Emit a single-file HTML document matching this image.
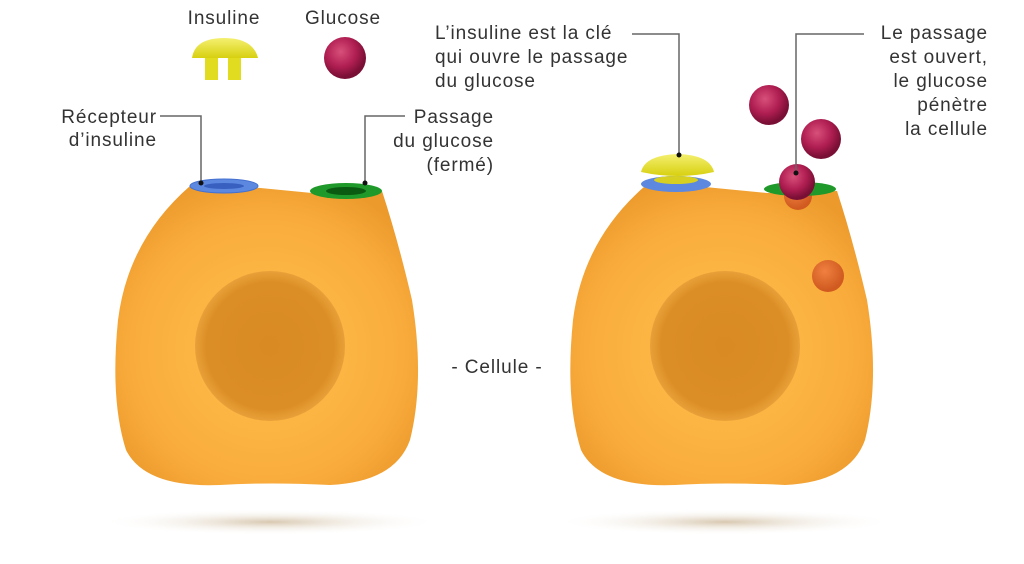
<!DOCTYPE html>
<html><head><meta charset="utf-8"><style>
body{margin:0;background:#fff;width:1024px;height:559px;overflow:hidden}
text{font-family:"Liberation Sans",sans-serif;font-size:19px;fill:#333;letter-spacing:0.9px}
</style></head><body>
<svg width="1024" height="559" viewBox="0 0 1024 559" xmlns="http://www.w3.org/2000/svg">
<defs>
<radialGradient id="cell" cx="0.5" cy="0.55" r="0.6">
<stop offset="0" stop-color="#ffc04a"/><stop offset="0.75" stop-color="#f9ac3c"/><stop offset="1" stop-color="#ec9a2c"/></radialGradient>
<radialGradient id="nuc" cx="0.5" cy="0.5" r="0.5">
<stop offset="0" stop-color="#d98a22"/><stop offset="0.85" stop-color="#dc8e26"/><stop offset="1" stop-color="#e9a038"/></radialGradient>
<radialGradient id="ball" cx="0.4" cy="0.35" r="0.6">
<stop offset="0" stop-color="#d8507a"/><stop offset="0.6" stop-color="#b01e52"/><stop offset="1" stop-color="#7a0f35"/></radialGradient>
<radialGradient id="oball" cx="0.4" cy="0.35" r="0.6">
<stop offset="0" stop-color="#f08040"/><stop offset="1" stop-color="#d05a20"/></radialGradient>
<radialGradient id="sh" cx="0.5" cy="0.5" r="0.5">
<stop offset="0" stop-color="#d8c8b0"/><stop offset="1" stop-color="#fff" stop-opacity="0"/></radialGradient>
<linearGradient id="dome" x1="0" y1="0" x2="0" y2="1"><stop offset="0" stop-color="#f4f070"/><stop offset="1" stop-color="#d8d010"/></linearGradient>
<g id="cellg">
<path d="M190,186 L250,187 L312,193 L382,191 Q398,240 412,300 Q425,380 410,440 Q395,482 330,485 Q270,482 220,485 Q145,488 126,450 Q110,400 118,320 Q128,240 190,186 Z" fill="url(#cell)"/>
<circle cx="270" cy="346" r="75" fill="url(#nuc)"/>
</g>
</defs>
<ellipse cx="270" cy="522" rx="170" ry="13" fill="url(#sh)"/>
<ellipse cx="725" cy="522" rx="170" ry="13" fill="url(#sh)"/>
<use href="#cellg"/>
<use href="#cellg" transform="translate(455,0)"/>
<ellipse cx="224" cy="186" rx="34" ry="7" fill="#5c88e0" stroke="#4470d0"/>
<ellipse cx="224" cy="186" rx="20" ry="3" fill="#3860c0"/>
<ellipse cx="346" cy="191" rx="36" ry="8" fill="#1f9a2a"/>
<ellipse cx="346" cy="191" rx="20" ry="4" fill="#0a5a12"/>
<text x="224" y="24" text-anchor="middle">Insuline</text>
<text x="343" y="24" text-anchor="middle">Glucose</text>
<path d="M192,58 Q195,38 224,38 Q253,38 258,58 Z" fill="url(#dome)"/>
<rect x="205" y="58" width="13" height="22" fill="#e2dc20"/><rect x="228" y="58" width="13" height="22" fill="#e2dc20"/>
<circle cx="345" cy="58" r="21" fill="url(#ball)"/>
<text x="157" y="123" text-anchor="end">Récepteur</text>
<text x="157" y="146" text-anchor="end">d’insuline</text>
<polyline points="160,116 201,116 201,183" fill="none" stroke="#666" stroke-width="1.5"/>
<circle cx="201" cy="183" r="2.5" fill="#111"/>
<text x="494" y="123" text-anchor="end">Passage</text>
<text x="494" y="147" text-anchor="end">du glucose</text>
<text x="494" y="171" text-anchor="end">(fermé)</text>
<polyline points="405,116 365,116 365,183" fill="none" stroke="#666" stroke-width="1.5"/>
<circle cx="365" cy="183" r="2.5" fill="#111"/>
<text x="497" y="373" text-anchor="middle">- Cellule -</text>
<ellipse cx="676" cy="184" rx="35" ry="8" fill="#5c88e0"/>
<ellipse cx="676" cy="180" rx="22" ry="4" fill="#d8d020"/>
<path d="M641,172 Q645,155 678,154 Q710,155 714,172 Q678,180 641,172 Z" fill="url(#dome)"/>
<circle cx="798" cy="196" r="14" fill="url(#oball)"/>
<ellipse cx="800" cy="189" rx="36" ry="7" fill="#1f9a2a"/>
<circle cx="797" cy="182" r="18" fill="url(#ball)"/>
<circle cx="769" cy="105" r="20" fill="url(#ball)"/>
<circle cx="821" cy="139" r="20" fill="url(#ball)"/>
<circle cx="828" cy="276" r="16" fill="url(#oball)"/>
<text x="435" y="39">L’insuline est la clé</text>
<text x="435" y="63">qui ouvre le passage</text>
<text x="435" y="87">du glucose</text>
<polyline points="632,34 679,34 679,155" fill="none" stroke="#666" stroke-width="1.5"/>
<circle cx="679" cy="155" r="2.5" fill="#111"/>
<text x="988" y="39" text-anchor="end">Le passage</text>
<text x="988" y="63" text-anchor="end">est ouvert,</text>
<text x="988" y="87" text-anchor="end">le glucose</text>
<text x="988" y="111" text-anchor="end">pénètre</text>
<text x="988" y="135" text-anchor="end">la cellule</text>
<polyline points="864,34 796,34 796,173" fill="none" stroke="#666" stroke-width="1.5"/>
<circle cx="796" cy="173" r="2.5" fill="#111"/>
</svg>
</body></html>
